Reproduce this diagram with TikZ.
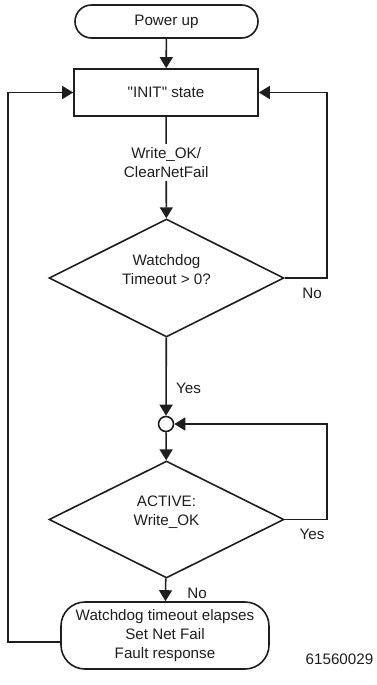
\documentclass[tikz,border=0pt]{standalone}
\usepackage{fontspec}
\newfontfamily\arial{Liberation Sans}
\usetikzlibrary{arrows.meta,shapes.geometric}
\definecolor{ink}{HTML}{1E1E1E}
\begin{document}
\begin{tikzpicture}[x=1pt,y=-1pt,
  every node/.style={font=\arial\fontsize{15.2}{19}\selectfont, text=ink},
  line/.style={draw=ink, line width=1.6pt},
  arr/.style={line, -{Triangle[length=11pt,width=13pt]}},
  box/.style={draw=ink, line width=1.6pt, rectangle, inner sep=0pt},
  dia/.style={draw=ink, line width=1.6pt, diamond, inner sep=0pt, minimum width=235pt, minimum height=118pt},
  lbl/.style={inner sep=0pt, align=center}]
\useasboundingbox (0,0) rectangle (377,685);
% nodes
\node[box, rounded corners=16.5pt, minimum width=183pt, minimum height=33pt] (pu) at (166.5,21.5) {Power up};
\node[box, minimum width=184pt, minimum height=47pt] (init) at (166,92.5) {"INIT" state};
\node[dia] (d1) at (166.5,278) {};
\node[lbl] (d1t) at (166.5,270) {Watchdog\\Timeout > 0?};
\node[circle, draw=ink, line width=1.6pt, minimum size=15pt, inner sep=0pt] (c) at (166,424) {};
\node[dia, minimum height=117pt] (d2) at (166.5,519.5) {};
\node[lbl] (d2t) at (166.5,512.5) {ACTIVE:\\Write\_OK};
\node[box, rounded corners=24pt, minimum width=208pt, minimum height=67pt, align=center] (fb) at (165,635.5) {Watchdog timeout elapses\\Set Net Fail\\Fault response};
% coordinates
\coordinate (r1) at (327,278);
\coordinate (r2) at (327,519.5);
\coordinate (l1) at (8,642);
% connectors
\draw[arr] (pu) -- (init);
\draw[arr] (init) -- node[fill=white, inner sep=3pt, align=center, pos=0.45] (wl) {Write\_OK/\\ClearNetFail} (d1);
\draw[arr] (d1.east) -- (r1) |- (init.east);
\draw[arr] (d1) -- (c);
\draw[arr] (c) -- (d2);
\draw[arr] (d2.east) -- (r2) |- (c.east);
\draw[arr] (d2) -- (fb);
\draw[arr] ([yshift=-6.5pt]fb.west) -- (l1) |- (init.west);
% labels
\node[lbl] (no1) at (312,293) {No};
\node[lbl, anchor=west] (yes1) at (176,388) {Yes};
\node[lbl] (yes2) at (312,534) {Yes};
\node[lbl] (no2) at (197,593) {No};
\node[lbl] (num) at (339.5,659) {61560029};
\end{tikzpicture}
\end{document}
